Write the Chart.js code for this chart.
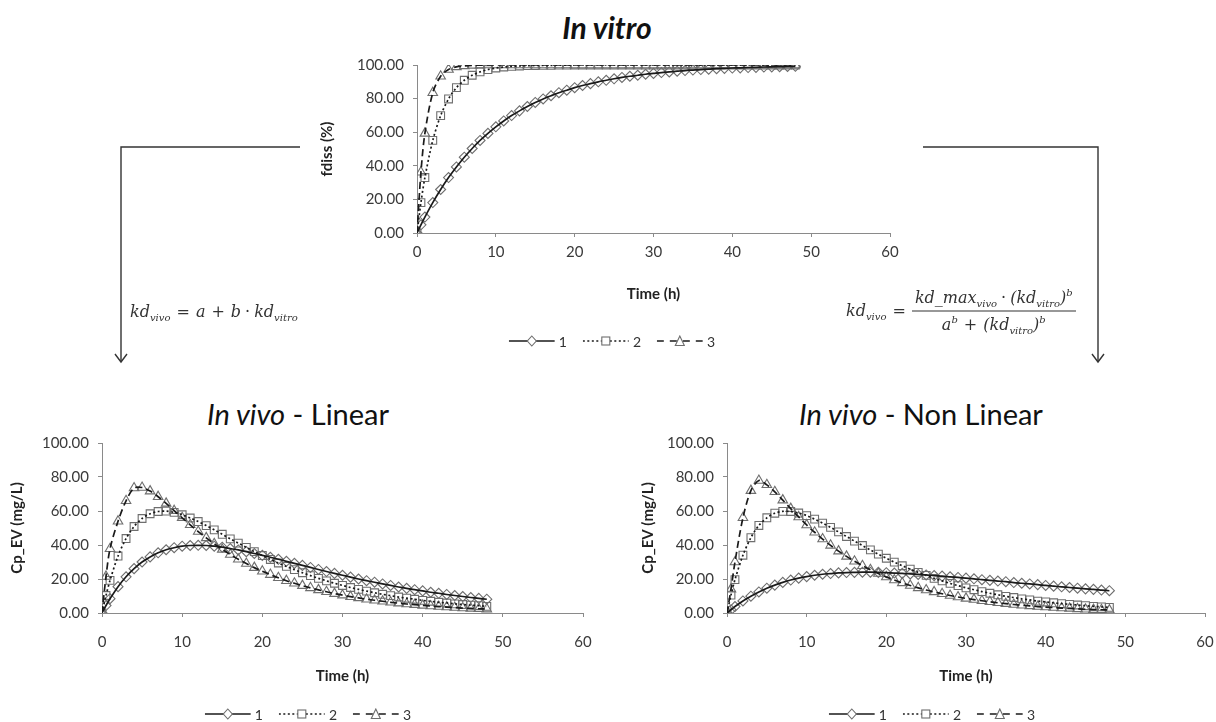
<!DOCTYPE html>
<html>
<head>
<meta charset="utf-8">
<title>In vitro / In vivo</title>
<script src="https://cdn.jsdelivr.net/npm/chart.js@4.4.1/dist/chart.umd.min.js"></script>
<style>
  body { margin: 0; width: 1216px; height: 722px; position: relative; overflow: hidden; background: #fff; font-family: Lato, "Open Sans", sans-serif; color: #333; }
  canvas { position: absolute; }
  .ttl { position: absolute; transform: translate(-50%, -50%); white-space: nowrap; color: #111; font-size: 29px; }
  .eq { position: absolute; transform: translateY(-50%); font-family: "DejaVu Serif", serif; font-style: italic; font-size: 16px; color: #333; white-space: nowrap; }
  .eq .op { font-style: normal; padding: 0 6px; }
  .eq .dot { font-style: normal; padding: 0 4px; }
  .eq sub { font-size: 10px; vertical-align: -4px; }
  .eq sup { font-size: 10px; vertical-align: 7px; }
  .frac { display: inline-flex; flex-direction: column; align-items: center; vertical-align: middle; }
  .frac .num { border-bottom: 1px solid #333; padding: 0 3px 2px; }
  .frac .den { padding-top: 2px; }
  .leg { position: absolute; transform: translate(-50%, -50%); display: flex; gap: 16px; align-items: center; font-size: 14px; color: #333; }
  .leg span { display: flex; align-items: center; gap: 4px; }
  svg.over { position: absolute; left: 0; top: 0; }
</style>
</head>
<body>

<div class="ttl" style="left:607px;top:27px;font-size:30px;font-weight:bold;font-style:italic">In vitro</div>
<div class="ttl" style="left:298px;top:413px"><i>In vivo</i> - Linear</div>
<div class="ttl" style="left:921px;top:413px"><i>In vivo</i> - Non Linear</div>

<canvas id="c-vitro" width="620" height="262" style="left:300px;top:45px"></canvas>
<canvas id="c-linear" width="600" height="265" style="left:0px;top:423px"></canvas>
<canvas id="c-nonlin" width="586" height="265" style="left:630px;top:423px"></canvas>

<svg class="over" width="1216" height="722">
  <g fill="none" stroke="#333" stroke-width="1.4">
    <path d="M300,147 H121 V362"/>
    <path d="M115,354 L121,362 L127,354"/>
    <path d="M923,147 H1098 V362"/>
    <path d="M1092,354 L1098,362 L1104,354"/>
  </g>
</svg>

<div class="eq" style="left:130px;top:312px">kd<sub>vivo</sub><span class="op">=</span>a<span class="op">+</span>b<span class="dot">·</span>kd<sub>vitro</sub></div>
<div class="eq" style="left:846px;top:311px;display:flex;align-items:center">
  <span>kd<sub>vivo</sub><span class="op">=</span></span>
  <span class="frac">
    <span class="num">kd_max<sub>vivo</sub><span class="dot">·</span>(kd<sub>vitro</sub>)<sup>b</sup></span>
    <span class="den">a<sup>b</sup><span class="op">+</span>(kd<sub>vitro</sub>)<sup>b</sup></span>
  </span>
</div>

<div class="leg" id="leg-vitro" style="left:612px;top:341px"></div>
<div class="leg" id="leg-linear" style="left:308px;top:714px"></div>
<div class="leg" id="leg-nonlin" style="left:932px;top:714px"></div>

<script>
// tempo (h)
const hours = [0, 0.5, 1, 2, 3, 4, 5, 6, 7, 8, 9, 10, 11, 12, 13, 14, 15, 16, 17, 18, 19, 20,
  21, 22, 23, 24, 25, 26, 27, 28, 29, 30, 31, 32, 33, 34, 35, 36, 37, 38, 39, 40,
  41, 42, 43, 44, 45, 46, 47, 48];

const seriesNames = ['1', '2', '3'];

// In vitro - fdiss (%)
const vitro1 = [0, 4.9, 9.5, 18.1, 25.9, 33.0, 39.3, 45.1, 50.3, 55.1, 59.3, 63.2, 66.7, 69.9, 72.7, 75.3,
  77.7, 79.8, 81.7, 83.5, 85.0, 86.5, 87.8, 88.9, 90.0, 90.9, 91.8, 92.6, 93.3, 93.9, 94.5, 95.0,
  95.5, 95.9, 96.3, 96.7, 97.0, 97.3, 97.5, 97.8, 98.0, 98.2, 98.3, 98.5, 98.6, 98.8, 98.9, 99.0, 99.1, 99.2];
const vitro2 = [0, 18.1, 33.0, 55.1, 69.9, 79.8, 86.5, 90.9, 93.9, 95.9, 97.3, 98.2, 98.8, 99.2, 99.4, 99.6,
  99.7, 99.8, 99.8, 99.9, 99.9, 100, 100, 100, 100, 100, 100, 100, 100, 100, 100, 100,
  100, 100, 100, 100, 100, 100, 100, 100, 100, 100, 100, 100, 100, 100, 100, 100, 100, 100];
const vitro3 = [0, 36.2, 59.3, 83.5, 93.3, 97.3, 98.9, 99.5, 99.8, 99.9, 100, 100, 100, 100, 100, 100,
  100, 100, 100, 100, 100, 100, 100, 100, 100, 100, 100, 100, 100, 100, 100, 100,
  100, 100, 100, 100, 100, 100, 100, 100, 100, 100, 100, 100, 100, 100, 100, 100, 100, 100];

// In vivo - Linear - Cp_EV (mg/L)
const linear1 = [0, 4.4, 8.4, 15.5, 21.3, 26.1, 30.0, 33.0, 35.4, 37.2, 38.4, 39.3, 39.7, 39.8, 39.7, 39.3,
  38.7, 37.9, 37.1, 36.1, 35.0, 33.9, 32.8, 31.6, 30.4, 29.2, 28.0, 26.8, 25.6, 24.4, 23.3, 22.2,
  21.1, 20.0, 19.0, 18.1, 17.1, 16.2, 15.3, 14.5, 13.7, 13.0, 12.2, 11.6, 10.9, 10.3, 9.7, 9.1, 8.6, 8.1];
const linear2 = [0, 10.3, 19.2, 33.5, 43.8, 50.9, 55.6, 58.4, 59.7, 59.9, 59.2, 57.8, 55.9, 53.8, 51.4, 48.9,
  46.3, 43.6, 41.1, 38.6, 36.1, 33.8, 31.5, 29.4, 27.4, 25.5, 23.7, 22.0, 20.4, 18.9, 17.5, 16.2,
  15.0, 13.9, 12.9, 11.9, 11.0, 10.2, 9.4, 8.7, 8.1, 7.4, 6.9, 6.3, 5.9, 5.4, 5.0, 4.6, 4.3, 3.9];
const linear3 = [0, 21.5, 37.8, 54.0, 66.0, 73.5, 73.8, 71.7, 68.4, 64.5, 60.2, 56.0, 51.9, 47.9, 44.2, 40.7,
  37.4, 34.4, 31.6, 29.1, 26.7, 24.6, 22.6, 20.7, 19.0, 17.5, 16.1, 14.8, 13.6, 12.5, 11.4, 10.5,
  9.6, 8.9, 8.1, 7.5, 6.9, 6.3, 5.8, 5.3, 4.9, 4.5, 4.1, 3.8, 3.5, 3.2, 2.9, 2.7, 2.5, 2.3];

// In vivo - Non Linear - Cp_EV (mg/L)
const nonlin1 = [0, 1.9, 3.8, 7.1, 9.9, 12.4, 14.6, 16.4, 18.0, 19.4, 20.5, 21.4, 22.2, 22.8, 23.2, 23.6,
  23.8, 23.9, 24.0, 24.0, 23.9, 23.7, 23.5, 23.3, 23.0, 22.7, 22.4, 22.0, 21.7, 21.3, 20.9, 20.5,
  20.1, 19.6, 19.2, 18.8, 18.4, 17.9, 17.5, 17.1, 16.7, 16.2, 15.8, 15.4, 15.0, 14.6, 14.2, 13.9, 13.5, 13.1];
const nonlin2 = [0, 10.5, 19.6, 34.0, 44.3, 51.5, 56.0, 58.7, 59.8, 59.7, 58.8, 57.3, 55.2, 52.9, 50.4, 47.7,
  45.0, 42.3, 39.7, 37.1, 34.6, 32.2, 29.9, 27.8, 25.8, 23.9, 22.1, 20.4, 18.9, 17.4, 16.1, 14.8,
  13.7, 12.6, 11.6, 10.7, 9.8, 9.1, 8.3, 7.7, 7.0, 6.5, 6.0, 5.5, 5.1, 4.7, 4.3, 3.9, 3.6, 3.3];
const nonlin3 = [0, 14.0, 30.0, 56.0, 72.0, 77.9, 75.4, 71.3, 66.4, 61.4, 56.5, 51.8, 47.5, 43.5, 39.8, 36.4,
  33.3, 30.4, 27.8, 25.4, 23.2, 21.2, 19.4, 17.7, 16.2, 14.8, 13.5, 12.4, 11.3, 10.3, 9.4, 8.6,
  7.9, 7.2, 6.6, 6.0, 5.5, 5.0, 4.6, 4.2, 3.8, 3.5, 3.2, 2.9, 2.7, 2.4, 2.2, 2.0, 1.9, 1.7];

// estilo de cada série: marcador + tipo de linha
const markStyles = ['rectRot', 'rect', 'triangle'];
const markRadius = [5, 5.5, 5.5];
const lineDash = [[], [2, 2.5], [7, 4]];
const legendDash = [[], [2, 2.5], [7, 6]];
const AXIS = '#8a8a8a';
const TICK = '#3a3a3a';

function buildDatasets(seriesList) {
  const sets = [];
  seriesList.forEach((vals, i) => {
    const pts = hours.map((h, k) => ({x: h, y: vals[k]}));
    // marcadores (observados)
    sets.push({
      label: seriesNames[i],
      data: pts,
      showLine: false,
      pointStyle: markStyles[i],
      pointRadius: markRadius[i],
      pointBorderColor: '#6e6e6e',
      pointBackgroundColor: 'rgba(255,255,255,0)',
      pointBorderWidth: 1.1,
      order: 2
    });
    // linha (modelo)
    sets.push({
      label: seriesNames[i],
      data: pts,
      showLine: true,
      borderColor: '#1a1a1a',
      borderWidth: 1.7,
      borderDash: lineDash[i],
      pointRadius: 0,
      tension: 0.3,
      order: 1
    });
  });
  return sets;
}

function makeChart(id, seriesList, o) {
  new Chart(document.getElementById(id), {
    type: 'scatter',
    data: {datasets: buildDatasets(seriesList)},
    options: {
      responsive: false,
      animation: false,
      devicePixelRatio: 1,
      layout: {padding: {top: o.padTop, right: o.padRight, left: 0, bottom: 0}},
      plugins: {legend: {display: false}, tooltip: {enabled: false}},
      scales: {
        x: {
          type: 'linear', min: 0, max: 60,
          afterFit: s => { s.height = o.xHeight; s.paddingLeft = 0; s.paddingRight = 0; },
          ticks: {stepSize: 10, color: TICK, padding: o.xTickPad, font: {family: 'Lato', size: 15}},
          grid: {drawOnChartArea: false, drawTicks: true, tickLength: 4, color: AXIS},
          border: {color: AXIS, width: 1},
          title: {display: true, text: 'Time (h)', color: '#222', padding: {top: 0, bottom: o.xTitlePad},
                  font: {family: 'Lato', size: 15, weight: 'bold'}}
        },
        y: {
          min: 0, max: 100,
          afterFit: s => { s.width = o.yWidth; },
          ticks: {stepSize: 20, color: TICK, padding: 9, font: {family: 'Lato', size: 15},
                  callback: v => v.toFixed(2)},
          grid: {drawOnChartArea: false, drawTicks: true, tickLength: 4, color: AXIS},
          border: {color: AXIS, width: 1},
          title: {display: true, text: o.yTitle, color: '#222', padding: {top: o.yTitlePad, bottom: 0},
                  font: {family: 'Lato', size: 15, weight: 'bold'}}
        }
      }
    }
  });
}

// legenda: linha + marcador, como no original
function makeLegend(id) {
  const el = document.getElementById(id);
  const shapes = [
    '<path d="M23,1.5 L27.5,6.5 L23,11.5 L18.5,6.5 Z"/>',
    '<rect x="19" y="2.5" width="8" height="8"/>',
    '<path d="M23,1.5 L27.5,11 L18.5,11 Z"/>'
  ];
  el.innerHTML = seriesNames.map((n, i) => {
    const dash = legendDash[i].length ? `stroke-dasharray="${legendDash[i].join(',')}"` : '';
    return `<span><svg width="46" height="13">
      <line x1="0" y1="6.5" x2="46" y2="6.5" stroke="#1a1a1a" stroke-width="1.6" ${dash}/>
      <g fill="#fff" stroke="#6e6e6e" stroke-width="1.1">${shapes[i]}</g></svg>${n}</span>`;
  }).join('');
}

makeChart('c-vitro', [vitro1, vitro2, vitro3], {
  padTop: 20, padRight: 30, yWidth: 117, xHeight: 74, xTickPad: 6, xTitlePad: 4, yTitlePad: 18, yTitle: 'fdiss (%)'
});
makeChart('c-linear', [linear1, linear2, linear3], {
  padTop: 20, padRight: 17, yWidth: 102, xHeight: 75, xTickPad: 16, xTitlePad: 3, yTitlePad: 8, yTitle: 'Cp_EV (mg/L)'
});
makeChart('c-nonlin', [nonlin1, nonlin2, nonlin3], {
  padTop: 20, padRight: 11, yWidth: 97, xHeight: 75, xTickPad: 16, xTitlePad: 3, yTitlePad: 9, yTitle: 'Cp_EV (mg/L)'
});

makeLegend('leg-vitro');
makeLegend('leg-linear');
makeLegend('leg-nonlin');
</script>
</body>
</html>
